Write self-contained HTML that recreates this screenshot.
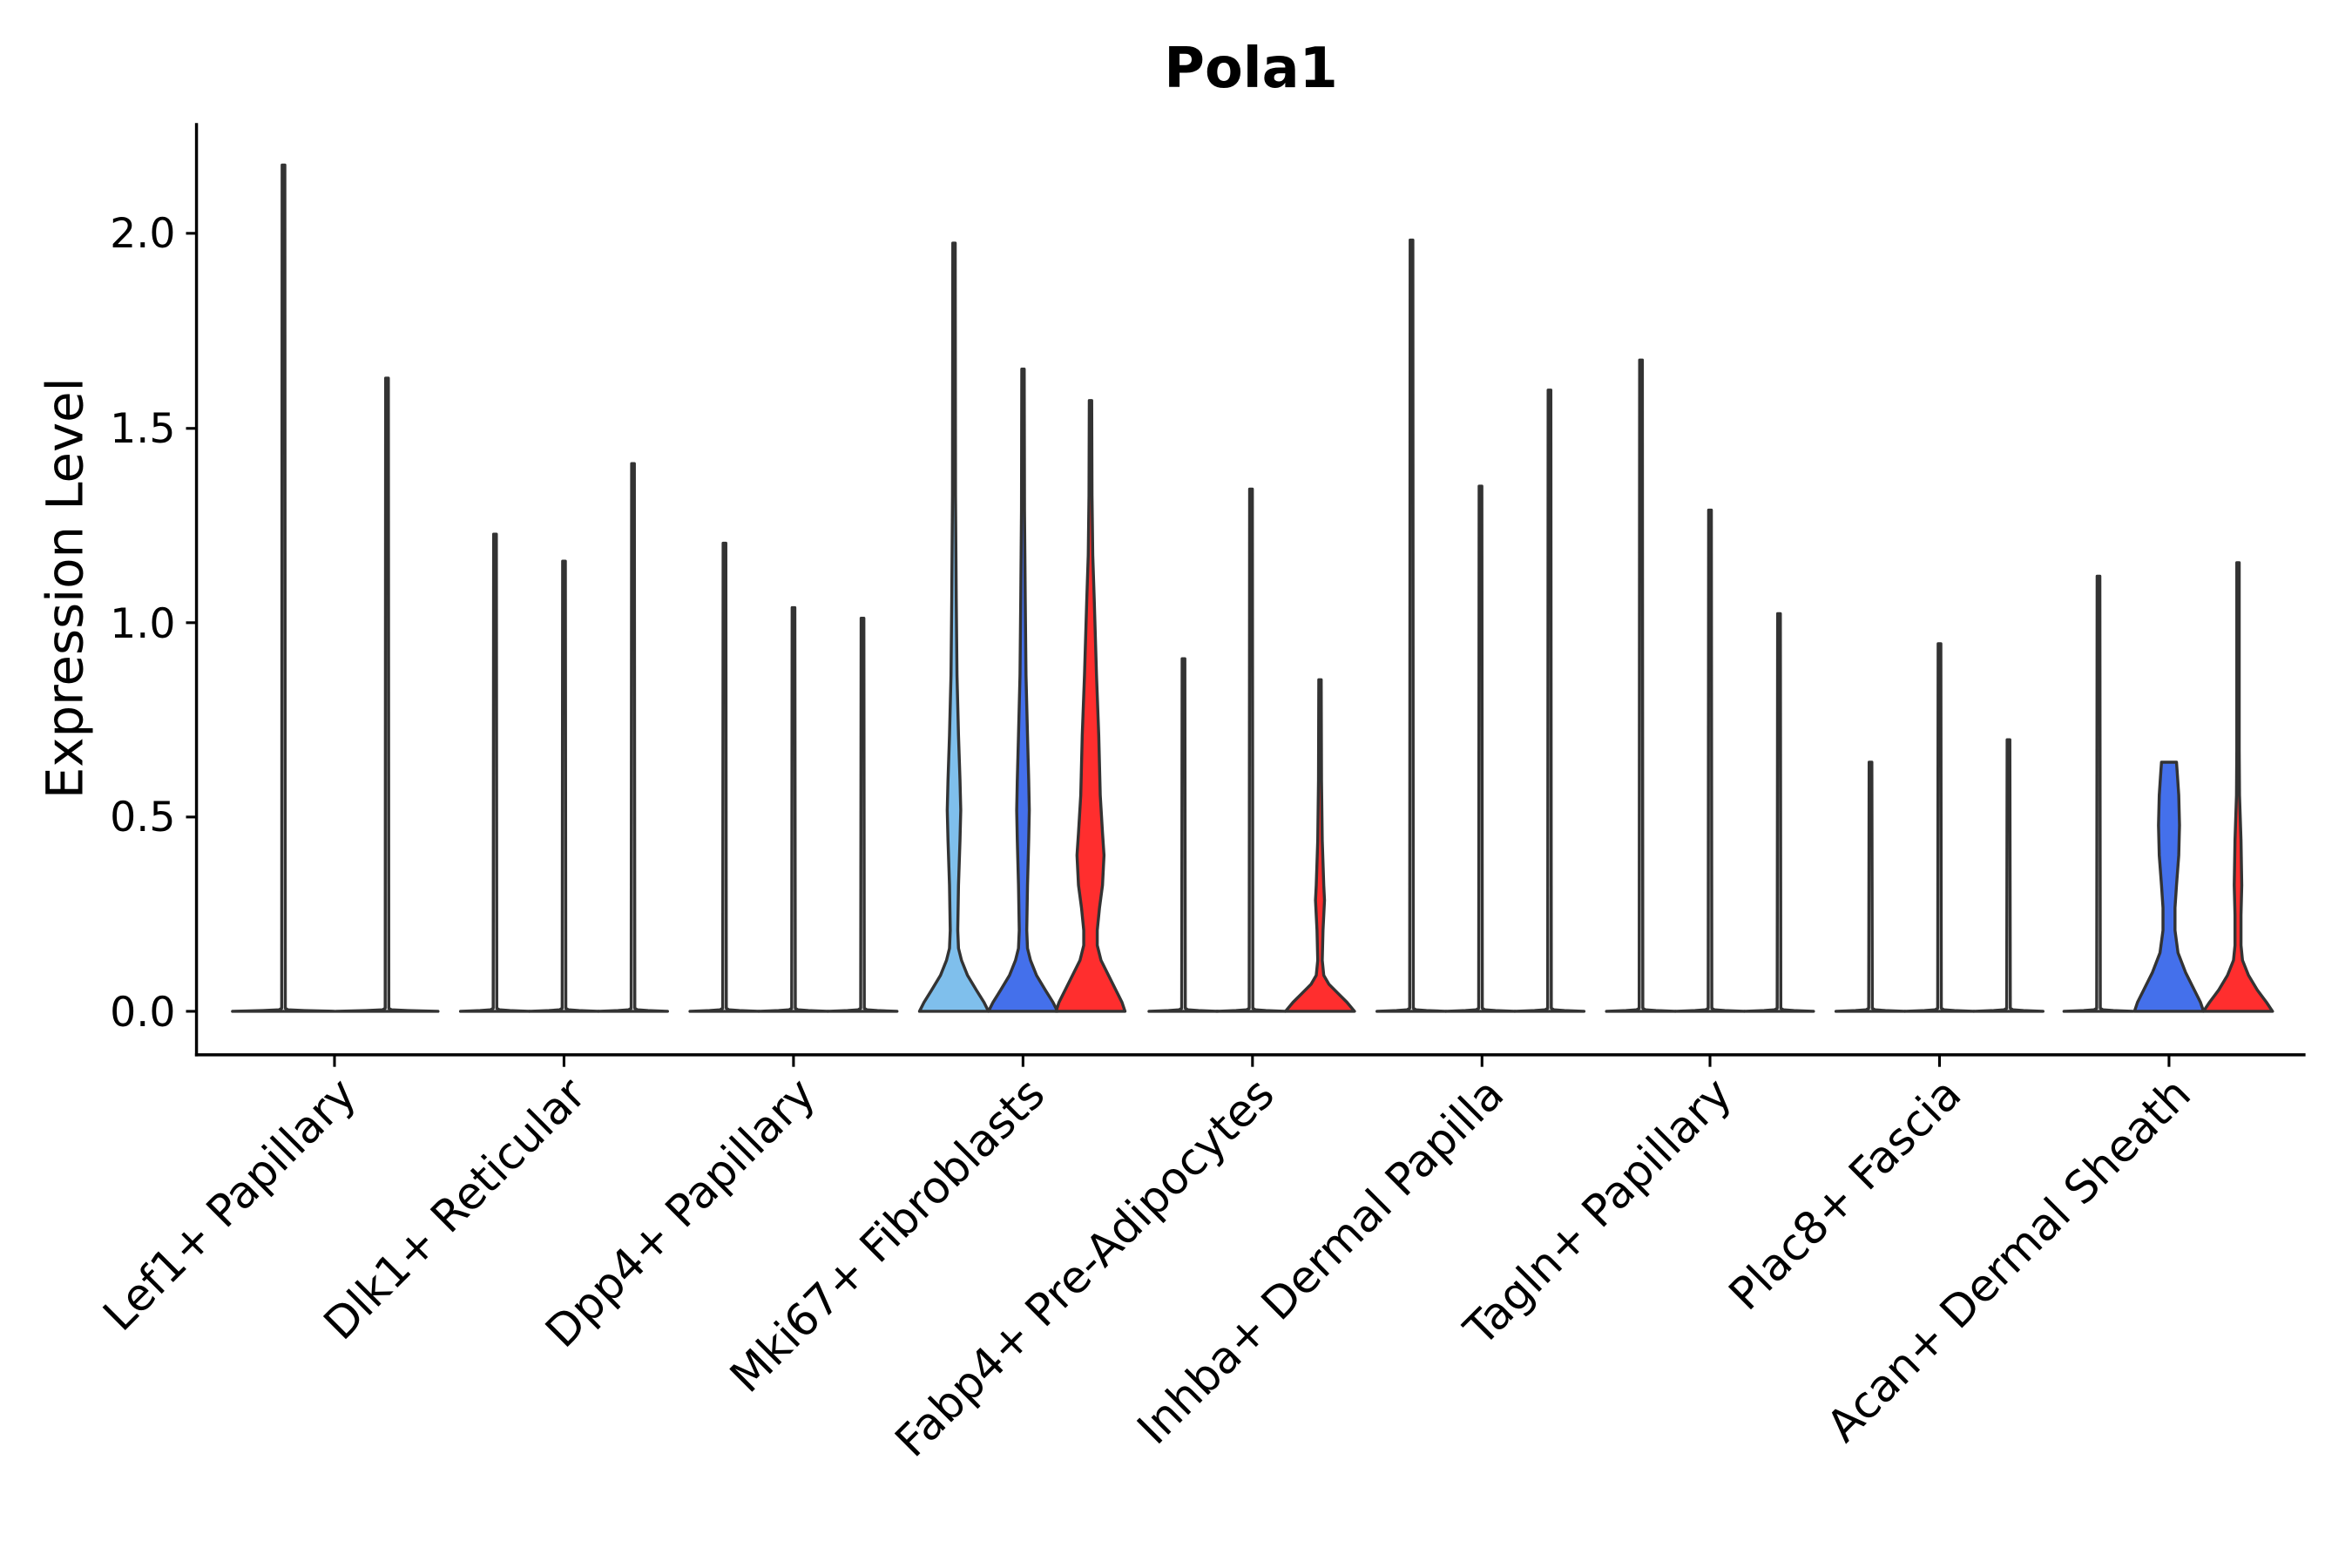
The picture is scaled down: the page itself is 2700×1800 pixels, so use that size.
<!DOCTYPE html>
<html><head><meta charset="utf-8"><style>
html,body{margin:0;padding:0;background:#fff}
svg{display:block}
text{font-family:"DejaVu Sans","Liberation Sans",sans-serif;fill:#000}
</style></head><body>
<svg id="s" width="2700" height="1800" viewBox="0 0 1568 1045" preserveAspectRatio="none" xmlns="http://www.w3.org/2000/svg">
<rect width="1568" height="1045" fill="#fff"/>
<text x="834" y="58" font-size="37" font-weight="bold" text-anchor="middle">Pola1</text>
<g id="v"></g>
<line x1="131" y1="82" x2="131" y2="704" stroke="#000" stroke-width="2"/>
<line x1="130" y1="703" x2="1537" y2="703" stroke="#000" stroke-width="2"/>
<g stroke="#000" stroke-width="1.8">
<line x1="124" y1="674" x2="131" y2="674"/><line x1="124" y1="544.5" x2="131" y2="544.5"/>
<line x1="124" y1="415" x2="131" y2="415"/><line x1="124" y1="285.5" x2="131" y2="285.5"/>
<line x1="124" y1="155.5" x2="131" y2="155.5"/>
</g>
<g font-size="27.5" text-anchor="end">
<text x="117" y="684">0.0</text><text x="117" y="554">0.5</text><text x="117" y="425">1.0</text>
<text x="117" y="295">1.5</text><text x="117" y="165">2.0</text>
</g>
<text transform="translate(55,392) rotate(-90)" font-size="33.5" text-anchor="middle">Expression Level</text>
<g id="xl" font-size="29.5" text-anchor="end"></g>
</svg>
<script>
var ns="http://www.w3.org/2000/svg";
var g=document.getElementById('v'),xl=document.getElementById('xl');
function violin(cx,pts,fill){
  var d="M"+(cx-pts[0][1])+","+pts[0][0];
  for(var i=1;i<pts.length;i++)d+=" L"+(cx-pts[i][1])+","+pts[i][0];
  for(var i=pts.length-1;i>=0;i--)d+=" L"+(cx+pts[i][1])+","+pts[i][0];
  d+=" Z";
  var p=document.createElementNS(ns,'path');
  p.setAttribute('d',d);p.setAttribute('fill',fill);p.setAttribute('stroke','#333');
  p.setAttribute('stroke-width','2');p.setAttribute('stroke-linejoin','round');
  g.appendChild(p);
}
function flat(cx,top){violin(cx,[[674,23],[673.5,10],[673,3],[672,1.2],[top,0.9]],'#fff');}
var cats=[[223,"Lef1+ Papillary"],[376,"Dlk1+ Reticular"],[529,"Dpp4+ Papillary"],[682,"Mki67+ Fibroblasts"],[835,"Fabp4+ Pre-Adipocytes"],[988,"Inhba+ Dermal Papilla"],[1140,"Tagln+ Papillary"],[1293,"Plac8+ Fascia"],[1446,"Acan+ Dermal Sheath"]];
violin(189,[[674,34],[673.5,14],[673,3],[672,1.2],[110,0.9]],'#fff');
violin(258,[[674,34],[673.5,14],[673,3],[672,1.2],[252,0.9]],'#fff');
[[330,356],[376,374],[422,309],[483,362],[529,405],[575,412],[789,439],[834,326],[941,160],[987,324],[1033,260],[1094,240],[1140,340],[1186,409],[1247,508],[1293,429],[1339,493],[1399,384]].forEach(function(a){flat(a[0],a[1]);});
violin(636,[[674,23],[668,20],[660,15],[650,9],[640,5],[632,3],[620,2.5],[590,3],[560,4],[540,4.5],[520,4],[490,3],[450,2],[400,1.5],[330,1],[162,0.8]],'#7FBFEC');
violin(682,[[674,23],[668,20],[660,15],[650,9],[640,5],[632,3],[620,2.5],[590,3],[560,3.8],[540,4.2],[520,3.8],[490,3],[450,2],[400,1.5],[340,1],[246,0.8]],'#4470EB');
violin(727,[[674,23],[668,21],[660,17],[650,12],[640,7],[630,4.5],[620,4.5],[605,6],[590,8],[570,9],[555,8],[530,6.5],[490,5.5],[450,4],[400,2.5],[370,1.5],[330,1],[267,0.8]],'#FF2E2E');
violin(880,[[674,23],[668,18],[662,12],[656,6],[650,2.5],[640,1.5],[620,2],[600,3],[590,2.5],[560,1.5],[520,1],[453,0.8]],'#FF2E2E');
violin(1446,[[674,23],[668,21],[660,17],[648,11],[635,6],[620,4],[605,4],[590,5],[570,6.5],[550,7],[530,6.5],[515,5.5],[508,5]],'#4470EB');
violin(1492,[[674,23],[668,19],[660,13],[650,7],[640,3],[630,2],[610,2],[590,2.5],[560,2],[530,1],[500,0.8],[375,0.8]],'#FF2E2E');
cats.forEach(function(c){
  var l=document.createElementNS(ns,'line');
  l.setAttribute('x1',c[0]);l.setAttribute('x2',c[0]);l.setAttribute('y1',703);l.setAttribute('y2',711);
  l.setAttribute('stroke','#000');l.setAttribute('stroke-width','1.8');
  document.getElementById('s').appendChild(l);
  var t=document.createElementNS(ns,'text');
  t.setAttribute('transform','translate('+(c[0]+16)+',731) rotate(-45)');
  t.textContent=c[1];xl.appendChild(t);
});
</script>
</body></html>
